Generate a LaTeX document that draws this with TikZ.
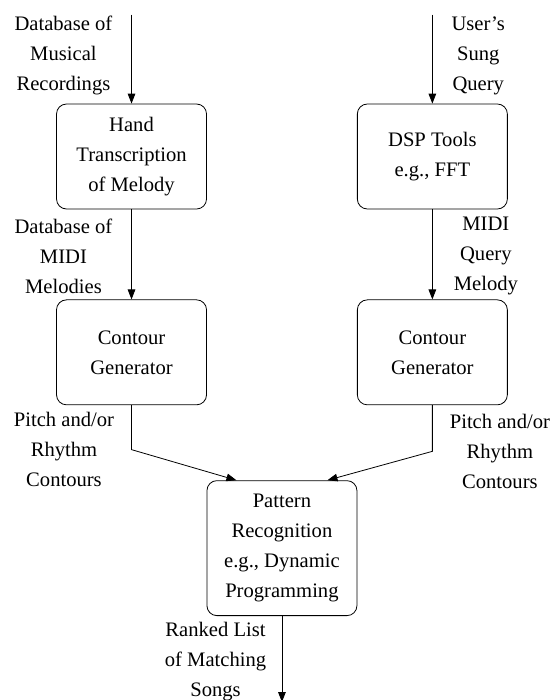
\documentclass[tikz,border=0pt]{standalone}
\usepackage{fontspec}
\setmainfont{Liberation Serif}
\usetikzlibrary{positioning, calc, arrows.meta}
\tikzstyle{process} = [rectangle, rounded corners=5pt, minimum width=2.636cm, minimum height=1.845cm, align=center, draw=black, fill=white]
\tikzstyle{lbl} = [align=center, inner sep=0pt]
\tikzstyle{arrow} = [->, >={Triangle[length=5pt, width=3.8pt]}]

\begin{document}
\begin{tikzpicture}[node distance=1.582cm, font=\fontsize{10.3pt}{15pt}\selectfont]
    \useasboundingbox (0,0) rectangle (9.70,-12.30);

    \node (hand) [process] at (2.311,-2.750) {Hand\\Transcription\\of Melody};
    \node (dsp) [process, right=2.636cm of hand] {DSP Tools\\e.g., FFT};
    \node (contl) [process, below=of hand] {Contour\\Generator};
    \node (contr) [process, below=of dsp] {Contour\\Generator};
    \coordinate (mid) at ($(contl.south)!0.5!(contr.south)$);
    \node (pat) [process, below=1.318cm of mid, minimum height=2.372cm] {Pattern\\Recognition\\e.g., Dynamic\\Programming};

    \coordinate [above=1.564cm of hand.north] (inl);
    \coordinate [above=1.564cm of dsp.north] (inr);
    \coordinate [below=1.511cm of pat.south] (outp);

    \draw [arrow] (inl) -- node (dbrec) [lbl, pos=0.46, left=0.33cm] {Database of\\Musical\\Recordings} (hand);
    \draw [arrow] (inr) -- node (query) [lbl, pos=0.46, right=0.33cm] {User's\\Sung\\Query} (dsp);
    \draw [arrow] (hand) -- node (dbmidi) [lbl, pos=0.52, left=0.33cm] {Database of\\MIDI\\Melodies} (contl);
    \draw [arrow] (dsp) -- node (midiq) [lbl, pos=0.52, right=0.37cm] {MIDI\\Query\\Melody} (contr);
    \draw [arrow] (contl.south) -- ++(0,-0.78) node (pitchl) [lbl, left=0.30cm] {Pitch and/or\\Rhythm\\Contours} -- ($(pat.north)+(-0.80,0)$);
    \draw [arrow] (contr.south) -- ++(0,-0.81) node (pitchr) [lbl, right=0.30cm] {Pitch and/or\\Rhythm\\Contours} -- ($(pat.north)+(0.80,0)$);
    \draw [arrow] (pat) -- node (ranked) [lbl, pos=0.53, left=0.27cm] {Ranked List\\of Matching\\Songs} (outp);
\end{tikzpicture}
\end{document}
